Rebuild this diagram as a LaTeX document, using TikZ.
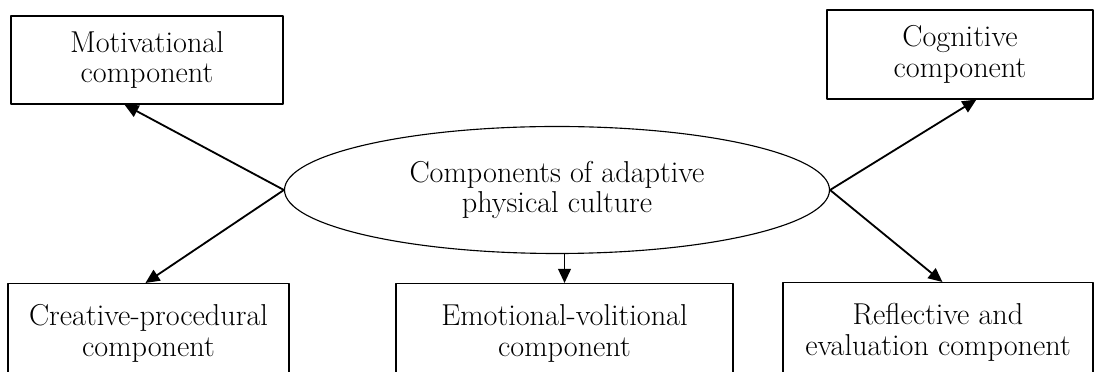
\documentclass[tikz,border=0pt]{standalone}
\usepackage{tikz}
\usetikzlibrary{arrows.meta,shapes.geometric}
\tikzset{
  every picture/.style={font=\fontsize{21.5}{22}\selectfont, line join=round, >={Triangle[length=10pt,width=9pt]}},
  compbox/.style={draw, line width=0.8pt, align=center, inner sep=0pt},
  centre/.style={ellipse, draw, line width=0.8pt, align=center, inner sep=0pt, minimum width=13.625cm, minimum height=3.175cm},
  link/.style={->, line width=1.3pt},
}

\begin{document}
\begin{tikzpicture}
\useasboundingbox (0.000,0.000) rectangle (27.350,9.300);
\node[centre] (ell) at (13.925,4.550) {Components of adaptive\\physical culture};
\node[compbox, minimum width=6.800cm, minimum height=2.200cm] (mot) at (3.675,7.800) {Motivational\\component};
\node[compbox, minimum width=6.650cm, minimum height=2.225cm] (cog) at (24.000,7.938) {Cognitive\\component};
\node[compbox, anchor=north, minimum width=7.025cm, minimum height=2.500cm] (cre) at (3.713,2.225) {Creative-procedural\\component};
\node[compbox, anchor=north, minimum width=8.425cm, minimum height=2.500cm] (emo) at (14.113,2.225) {Emotional-volitional\\component};
\node[compbox, anchor=north, minimum width=7.750cm, minimum height=2.500cm] (ref) at (23.450,2.250) {Reflective and\\evaluation component};
% arrows out of the ellipse
\draw[link] (ell.west) -- ([xshift=2.850cm]mot.south west);
\draw[link] (ell.west) -- ([xshift=3.450cm]cre.north west);
\draw[link] (ell.east) -- ([xshift=3.750cm]cog.south west);
\draw[link] (ell.east) -- ([xshift=4.000cm]ref.north west);
\draw[link] (ell.south -| emo.north) -- (emo.north);
\end{tikzpicture}
\end{document}
